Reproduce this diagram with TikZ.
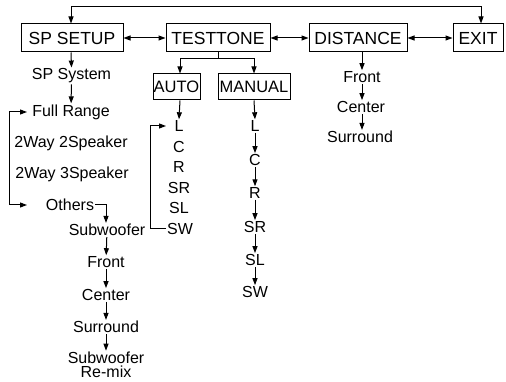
\documentclass[tikz,border=0pt]{standalone}
\usepackage{fontspec}
\setmainfont{Liberation Sans}
\usetikzlibrary{arrows.meta}
\begin{document}
\begin{tikzpicture}[x=1pt,y=-1pt,
  box/.style={draw,line width=1pt,inner sep=0pt,minimum height=28pt,font=\fontsize{17.5}{20}\selectfont},
  sbox/.style={draw,line width=1pt,inner sep=0pt,minimum height=26pt,font=\fontsize{16.5}{19}\selectfont},
  lbl/.style={inner sep=1pt,font=\fontsize{16}{15}\selectfont},
  arr/.style={line width=1pt,-{Triangle[length=7pt,width=5pt]}},
  darr/.style={line width=1pt,{Triangle[length=7pt,width=5pt]}-{Triangle[length=7pt,width=5pt]}}]
\useasboundingbox (0,0) rectangle (506,382);
% main boxes
\node[box,minimum width=102pt] (sp) at (72,38) {SP SETUP};
\node[box,minimum width=104pt] (tt) at (218,38) {TESTTONE};
\node[box,minimum width=98pt] (di) at (358,38) {DISTANCE};
\node[box,minimum width=50pt] (ex) at (478,38) {EXIT};
\draw[darr] (sp.east) -- (tt.west);
\draw[darr] (tt.east) -- (di.west);
\draw[darr] (di.east) -- (ex.west);
\draw[darr] ([xshift=-1pt]sp.north) -- ++(0,-17) -| ([xshift=3pt]ex.north);
% SP SETUP column
\node[lbl] (spsys) at (71.5,76) {SP System};
\node[lbl] (full) at (71,112) {Full Range};
\node[lbl] (w22) at (71,143) {2Way 2Speaker};
\node[lbl] (w23) at (72,174) {2Way 3Speaker};
\node[lbl] (oth) at (70,205) {Others};
\node[lbl] (sub) at (107,230) {Subwoofer};
\node[lbl] (fr1) at (106,262) {Front};
\node[lbl] (ce1) at (106,295) {Center};
\node[lbl] (su1) at (106,327) {Surround};
\node[lbl,align=center,font=\fontsize{16}{14.5}\selectfont] (srm) at (106,365) {Subwoofer\\Re-mix};
\draw[arr] ([xshift=-1pt]sp.south) -- (spsys.north);
\draw[arr] (spsys) -- (full);
\coordinate (fa) at (27,112);
\coordinate (oa) at (27,205);
\draw[darr] (fa) -- (9,112) -- (9,205) -- (oa);
\draw[arr] (oth.east) -| ([xshift=-1pt]sub.north);
\draw[arr] (sub) -- (fr1);
\draw[arr] (fr1) -- (ce1);
\draw[arr] (ce1) -- (su1);
\draw[arr] (su1) -- (srm);
% TESTTONE
\node[sbox,minimum width=47pt] (au) at (176.5,87) {AUTO};
\node[sbox,minimum width=72pt] (ma) at (254,87) {MANUAL};
\draw[arr] (tt.south) -- ++(0,6) -| ([xshift=3.5pt]au.north);
\draw[arr] (tt.south) -- ++(0,6) -| (ma.north);
% AUTO column
\node[lbl] (al) at (179,126) {L};
\node[lbl] (ac) at (179,146.5) {C};
\node[lbl] (ar) at (179,167) {R};
\node[lbl] (asr) at (179,187.5) {SR};
\node[lbl] (asl) at (179,208) {SL};
\node[lbl] (asw) at (180,228.5) {SW};
\draw[arr] ([xshift=3.5pt]au.south) -- (al.north);
\coordinate (la) at (166,126);
\draw[arr] (asw.west) -- (150,228.5) -- (150,126) -- (la);
% MANUAL column
\node[lbl] (ml) at (255,126) {L};
\node[lbl] (mc) at (255,160) {C};
\node[lbl] (mr) at (255,193) {R};
\node[lbl] (msr) at (255,227) {SR};
\node[lbl] (msl) at (255,260) {SL};
\node[lbl] (msw) at (255,292) {SW};
\draw[arr] (ma.south) -- (ml.north);
\draw[arr] (ml) -- (mc);
\draw[arr] (mc) -- (mr);
\draw[arr] (mr) -- (msr);
\draw[arr] (msr) -- (msl);
\draw[arr] (msl) -- (msw);
% DISTANCE column
\node[lbl] (dfr) at (362,77) {Front};
\node[lbl] (dce) at (361,107) {Center};
\node[lbl] (dsu) at (360,137) {Surround};
\draw[arr] ([xshift=4pt]di.south) -- (dfr.north);
\draw[arr] (dfr) -- ([xshift=1pt]dce.north);
\draw[arr] ([xshift=1pt]dce.south) -- ([xshift=2pt]dsu.north);
\end{tikzpicture}
\end{document}
